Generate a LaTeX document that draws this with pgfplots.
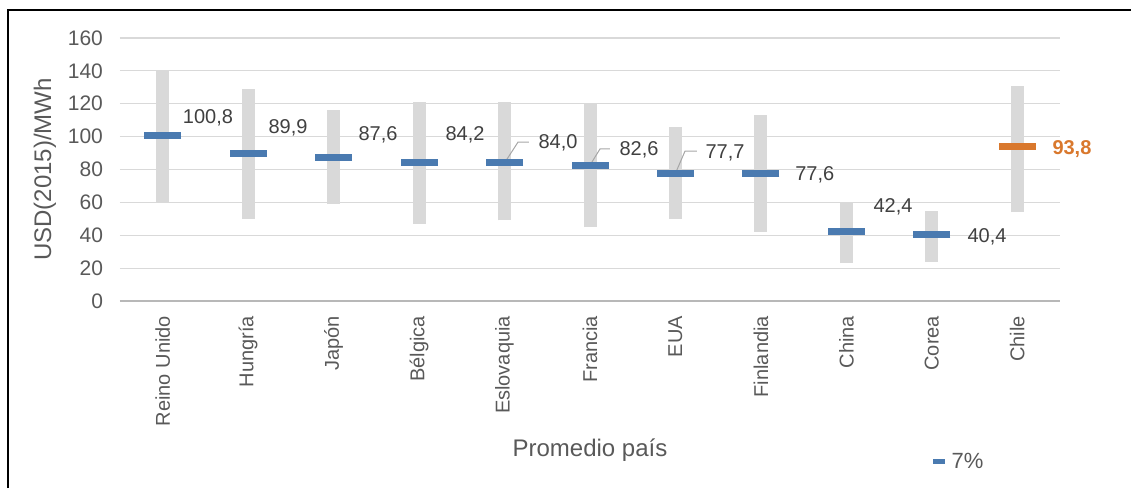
\documentclass[border=0pt]{standalone}
\usepackage{pgfplots}
\pgfplotsset{compat=1.18}
\usepackage{fontspec}
\setmainfont{Liberation Sans}
\definecolor{rejilla}{HTML}{D9D9D9}
\definecolor{rango}{HTML}{D9D9D9}
\definecolor{azul}{HTML}{4A7AB0}
\definecolor{naranja}{HTML}{D9782D}
\definecolor{texto}{HTML}{595959}
\definecolor{dato}{HTML}{404040}
\definecolor{guia}{HTML}{A6A6A6}
\begin{document}
\begin{tikzpicture}
\useasboundingbox (-60pt,-93.5pt) rectangle (505.5pt,150.5pt);
\begin{axis}[
  at={(0,0)}, anchor=south west, scale only axis,
  width=470pt, height=131.5pt,
  xmin=-0.5, xmax=10.5, ymin=0, ymax=160,
  axis x line*=bottom, axis y line*=left,
  axis line style={-},
  x axis line style={color=rejilla!85!black, line width=0.6pt},
  y axis line style={draw=none},
  major tick length=0pt,
  ytick={0,20,...,160},
  /pgf/number format/assume math mode=true,
  ymajorgrids, grid style={rejilla, line width=0.6pt},
  xtick={0,...,10},
  xticklabels={Reino Unido,Hungría,Japón,Bélgica,Eslovaquia,Francia,EUA,Finlandia,China,Corea,Chile},
  xticklabel style={rotate=90, anchor=east, font=\fontsize{10}{12}\selectfont, text=texto, xshift=-4pt},
  yticklabel style={font=\fontsize{10.5}{12}\selectfont, text=texto, xshift=-5pt},
  ylabel={USD(2015)/MWh},
  ylabel style={at={(axis description cs:-0.08,0.5)}, anchor=center, font=\fontsize{12}{14}\selectfont, text=texto},
  xlabel={Promedio país},
  xlabel style={at={(axis description cs:0.5,-0.567)}, anchor=center, font=\fontsize{12}{14}\selectfont, text=texto},
  legend style={draw=none, fill=none, at={(axis description cs:0.862,-0.612)}, anchor=west, font=\fontsize{11}{13}\selectfont, text=texto, inner sep=0pt},
  legend image code/.code={\draw[azul, line width=2.5pt] (0pt,0pt) -- (6pt,0pt);},
  clip=false,
]
% rangos (min, max)
\addplot[rango, line width=6.5pt, unbounded coords=jump, forget plot] coordinates {
  (0,60) (0,140) (0,nan)
  (1,50) (1,129) (1,nan)
  (2,59) (2,116) (2,nan)
  (3,47) (3,121) (3,nan)
  (4,49) (4,121) (4,nan)
  (5,45) (5,120) (5,nan)
  (6,50) (6,106) (6,nan)
  (7,42) (7,113) (7,nan)
  (8,23) (8,60) (8,nan)
  (9,24) (9,55) (9,nan)
  (10,54) (10,131)
};
% promedio 7%
\addplot[only marks, mark=-, mark size=9.25pt, mark options={azul, line width=3.5pt}] coordinates {
  (0,100.8) (1,89.9) (2,87.6) (3,84.2) (4,84.0) (5,82.6) (6,77.7) (7,77.6) (8,42.4) (9,40.4)
};
\addlegendentry{7\%}
\addplot[only marks, mark=-, mark size=9.25pt, mark options={naranja, line width=3.5pt}, forget plot] coordinates {
  (10,93.8)
};
% guias
\draw[guia, line width=0.5pt] (axis cs:4,84.0) -- (axis cs:4.158,96.7) -- (axis cs:4.286,96.7);
\draw[guia, line width=0.5pt] (axis cs:5,82.6) -- (axis cs:5.117,92.5) -- (axis cs:5.234,92.5);
\draw[guia, line width=0.5pt] (axis cs:6,77.7) -- (axis cs:6.112,91.2) -- (axis cs:6.252,91.2);
% etiquetas
\begin{scope}[every node/.style={font=\fontsize{10}{12}\selectfont, text=dato}]
\node at (axis cs:0.53,111.3) {100,8};
\node at (axis cs:1.466,105.2) {89,9};
\node at (axis cs:2.52,101) {87,6};
\node at (axis cs:3.537,101) {84,2};
\node at (axis cs:4.626,96.1) {84,0};
\node at (axis cs:5.574,91.8) {82,6};
\node at (axis cs:6.58,90) {77,7};
\node at (axis cs:7.63,76.6) {77,6};
\node at (axis cs:8.546,57.2) {42,4};
\node at (axis cs:9.646,38.9) {40,4};
\node[text=naranja, font=\fontsize{10}{12}\selectfont\bfseries] at (axis cs:10.64,92.5) {93,8};
\end{scope}
\end{axis}
\draw[line width=1.2pt] (-56pt,-93.5pt) -- (-56pt,145.5pt) -- (505.5pt,145.5pt);
\end{tikzpicture}
\end{document}
